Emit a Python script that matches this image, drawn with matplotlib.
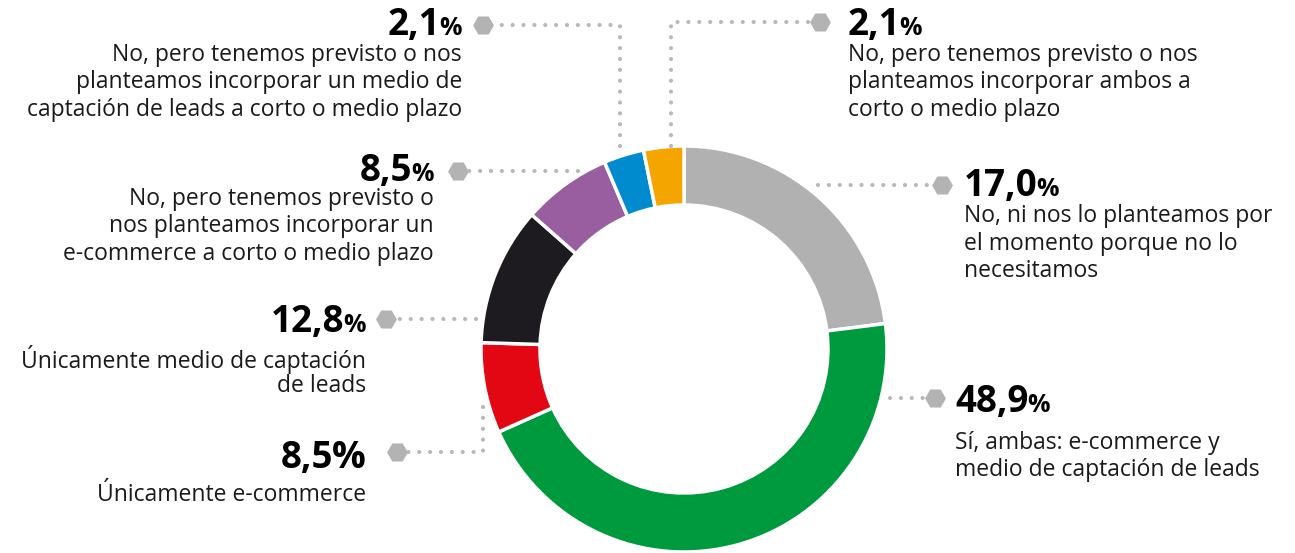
import matplotlib
matplotlib.use("Agg")
import matplotlib.pyplot as plt

# -------------------------------------------------------
# Data (wedge sizes, labels as printed)
# -------------------------------------------------------
categories = [
    "No, ni nos lo planteamos por\nel momento porque no lo\nnecesitamos",
    "Sí, ambas: e-commerce y\nmedio de captación de leads",
    "Únicamente e-commerce",
    "Únicamente medio de captación\nde leads",
    "No, pero tenemos previsto o\nnos planteamos incorporar un\ne-commerce a corto o medio plazo",
    "No, pero tenemos previsto o nos\nplanteamos incorporar un medio de\ncaptación de leads a corto o medio plazo",
    "No, pero tenemos previsto o nos\nplanteamos incorporar ambos a\ncorto o medio plazo",
]
pct_labels = ["17,0", "48,9", "8,5", "12,8", "8,5", "2,1", "2,1"]
wedge_sizes = [23.0, 45.3, 7.2, 11.0, 7.1, 3.2, 3.2]
colors = ["#b1b1b1", "#009a3e", "#e30613", "#1d1a20", "#985ea0", "#008bcf", "#f5a500"]

# -------------------------------------------------------
# Layout (pixel coordinates, y measured from the top)
# -------------------------------------------------------
W, H = 1295, 553
CENTER = (684, 349)
R_OUT = 203
RING = 59

# per label: (x, number baseline y, align, first desc line centre, leader path, big %?)
LABELS = [
    (964, 196, "left", 216, [(818, 185), (942, 185)], False),
    (955, 412, "left", 443, [(890, 398), (935, 398)], False),
    (366, 468, "right", 495, [(483, 407), (483, 452), (397, 452)], True),
    (366, 332, "right", 359, [(476, 319), (386, 319)], False),
    (434, 181, "right", 199, [(578, 171), (458, 171)], False),
    (462, 35, "right", 55, [(620, 146), (620, 25), (483, 25)], False),
    (848, 35, "left", 55, [(671, 146), (671, 22), (820, 22)], False),
]

FONT = "Open Sans"
DOT = "#b8b8b8"
LINE_H = 27.5


def fy(y):
    return H - y


fig = plt.figure(figsize=(W / 100, H / 100), dpi=100)
ax = fig.add_axes([0, 0, 1, 1])

ax.pie(
    wedge_sizes,
    colors=colors,
    startangle=90,
    counterclock=False,
    center=(CENTER[0], fy(CENTER[1])),
    radius=R_OUT,
    wedgeprops=dict(width=RING, edgecolor="white", linewidth=2.5),
    frame=True,
)
ax.set_xlim(0, W)
ax.set_ylim(0, H)
ax.axis("off")

renderer = fig.canvas.get_renderer()

for (x, base, align, desc_y, path, big_pct), num, text in zip(LABELS, pct_labels, categories):
    # dotted leader + hexagon end
    xs = [p[0] for p in path]
    ys = [fy(p[1]) for p in path]
    ax.plot(xs, ys, color=DOT, lw=3.0, linestyle=(0, (0.01, 2.6)),
            dash_capstyle="round", solid_capstyle="round", zorder=1)
    ax.plot(xs[-1], ys[-1], marker="H", ms=15, color="#b3b3b3", mec="none", zorder=2)

    pct_size = 27 if big_pct else 18
    if align == "left":
        t = ax.text(x, fy(base), num, fontsize=26.5, fontweight="bold", family=FONT,
                    ha="left", va="baseline", color="black")
        bb = t.get_window_extent(renderer)
        ax.text(bb.x1 - 1, fy(base), "%", fontsize=pct_size, fontweight="bold",
                family=FONT, ha="left", va="baseline", color="black")
    else:
        t = ax.text(x, fy(base), "%", fontsize=pct_size, fontweight="bold", family=FONT,
                    ha="right", va="baseline", color="black")
        bb = t.get_window_extent(renderer)
        ax.text(bb.x0 + 1, fy(base), num, fontsize=26.5, fontweight="bold",
                family=FONT, ha="right", va="baseline", color="black")

    for i, line in enumerate(text.split("\n")):
        ax.text(x, fy(desc_y + i * LINE_H), line, fontsize=16.5, family=FONT,
                ha=align, va="center", color="#1a1a1a")

fig.savefig("out.png", dpi=100)
